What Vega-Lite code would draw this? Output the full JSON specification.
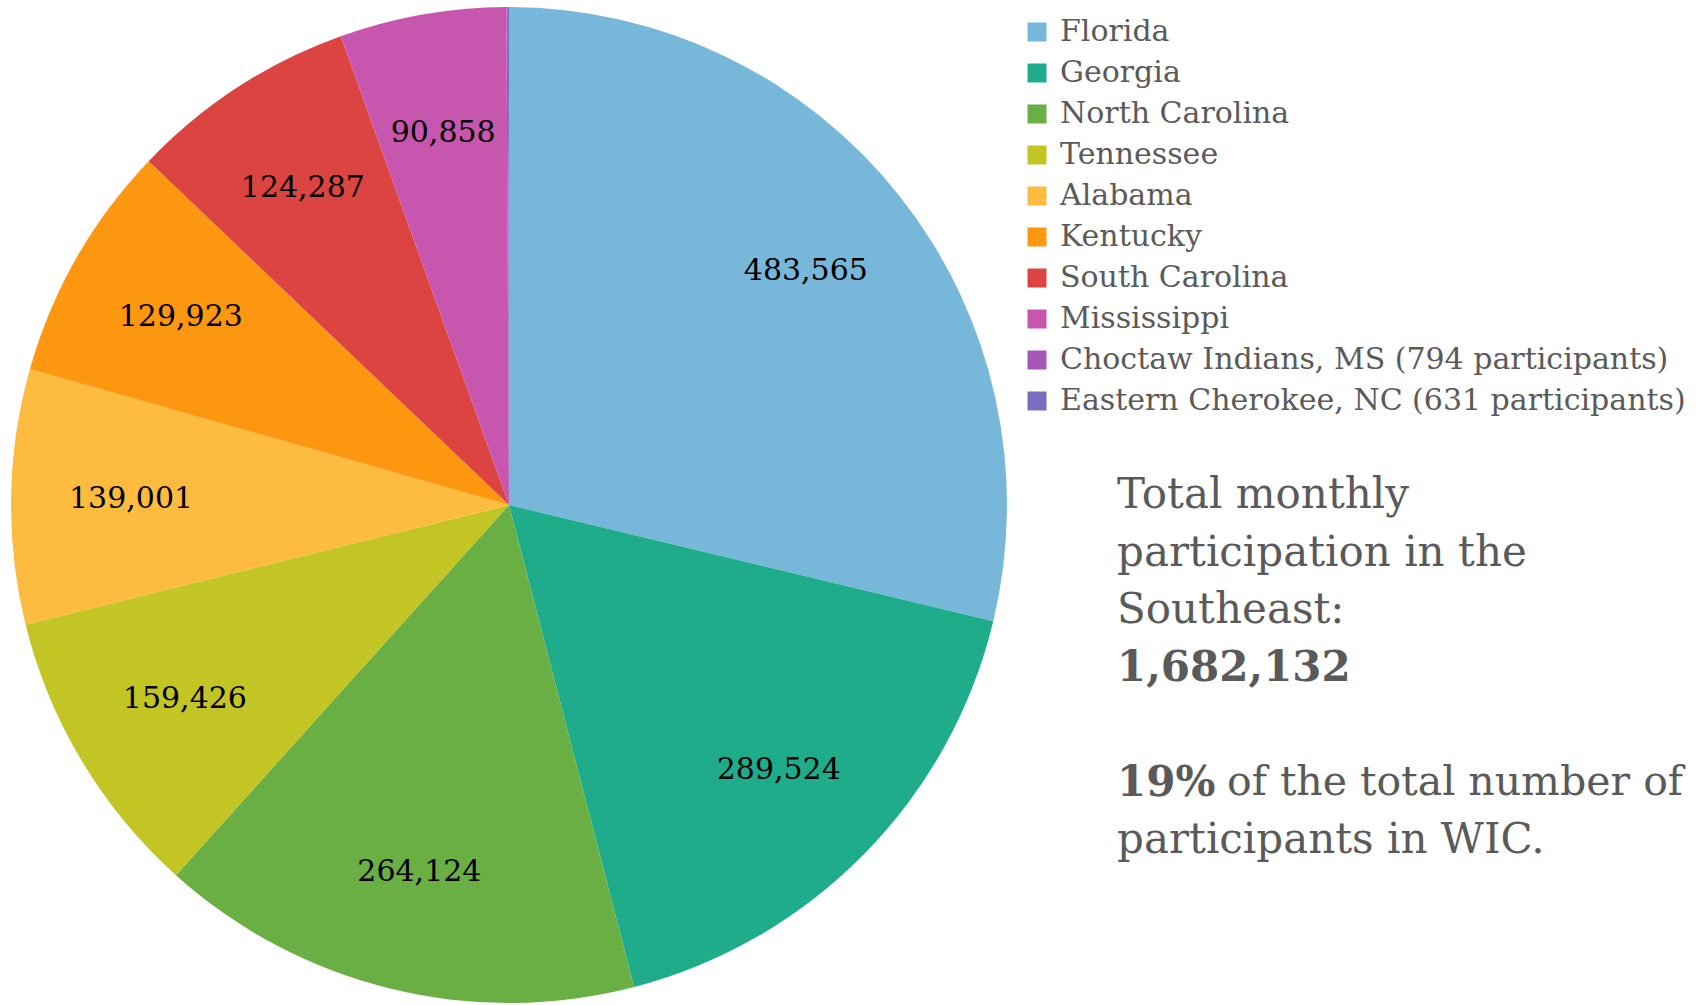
{
  "$schema": "https://vega.github.io/schema/vega-lite/v6.json",
  "background": "white",
  "padding": 0,
  "spacing": 99,
  "config": {"view": {"stroke": null}},
  "datasets": {
    "wic": [
      {"state": "Florida", "participants": 483565},
      {"state": "Georgia", "participants": 289524},
      {"state": "North Carolina", "participants": 264124},
      {"state": "Tennessee", "participants": 159426},
      {"state": "Alabama", "participants": 139001},
      {"state": "Kentucky", "participants": 129923},
      {"state": "South Carolina", "participants": 124287},
      {"state": "Mississippi", "participants": 90858},
      {"state": "Choctaw Indians, MS (794 participants)", "participants": 794},
      {"state": "Eastern Cherokee, NC (631 participants)", "participants": 631}
    ],
    "notes": [
      {"line": "a", "text": "Total monthly", "style": "normal"},
      {"line": "b", "text": "participation in the", "style": "normal"},
      {"line": "c", "text": "Southeast:", "style": "normal"},
      {"line": "d", "text": "1,682,132", "style": "bold"},
      {"line": "f", "text": "19%", "style": "bold"},
      {"line": "f", "text": "of the total number of", "style": "tail"},
      {"line": "g", "text": "participants in WIC.", "style": "normal"}
    ]
  },
  "hconcat": [
    {
      "width": 1018,
      "height": 1010,
      "data": {"name": "wic"},
      "encoding": {
        "theta": {"field": "participants", "type": "quantitative", "stack": true},
        "order": {"field": "participants", "type": "quantitative", "sort": "descending"}
      },
      "layer": [
        {
          "mark": {"type": "arc", "outerRadius": 498},
          "encoding": {
            "color": {
              "field": "state",
              "type": "nominal",
              "scale": {
                "domain": ["Florida", "Georgia", "North Carolina", "Tennessee", "Alabama", "Kentucky", "South Carolina", "Mississippi", "Choctaw Indians, MS (794 participants)", "Eastern Cherokee, NC (631 participants)"],
                "range": ["#77b7d9", "#1fac8a", "#6aaf44", "#c2c523", "#fdbb40", "#fc970f", "#dc4442", "#c756ae", "#a656b9", "#7b6cc0"]
              },
              "legend": {
                "title": null,
                "orient": "none",
                "legendX": 1022,
                "legendY": 17,
                "symbolType": "square",
                "symbolSize": 361,
                "symbolStrokeWidth": 0,
                "labelFont": "DejaVu Serif",
                "labelFontSize": 30,
                "labelColor": "#5a5a5a",
                "labelOffset": 8,
                "labelLimit": 700,
                "rowPadding": 11
              }
            }
          }
        },
        {
          "transform": [{"filter": "datum.participants > 10000"}],
          "mark": {"type": "text", "radius": 378, "font": "DejaVu Serif", "fontSize": 30, "color": "black", "baseline": "middle", "align": "center"},
          "encoding": {
            "text": {"field": "participants", "type": "quantitative", "format": ","}
          }
        }
      ]
    },
    {
      "width": 583,
      "height": 1010,
      "data": {"name": "notes"},
      "encoding": {
        "x": {"datum": 0, "type": "quantitative", "scale": {"domain": [0, 1]}, "axis": null},
        "y": {"field": "line", "type": "ordinal", "scale": {"type": "point", "domain": ["a", "b", "c", "d", "e", "f", "g"], "range": [495, 840], "padding": 0}, "axis": null},
        "text": {"field": "text", "type": "nominal"}
      },
      "layer": [
        {
          "transform": [{"filter": "datum.style == 'normal'"}],
          "mark": {"type": "text", "align": "left", "baseline": "middle", "font": "DejaVu Serif", "fontSize": 42, "color": "#5a5a5a"}
        },
        {
          "transform": [{"filter": "datum.style == 'bold'"}],
          "mark": {"type": "text", "align": "left", "baseline": "middle", "font": "DejaVu Serif", "fontSize": 42, "fontWeight": "bold", "color": "#5a5a5a"}
        },
        {
          "transform": [{"filter": "datum.style == 'tail'"}],
          "mark": {"type": "text", "align": "left", "baseline": "middle", "font": "DejaVu Serif", "fontSize": 41, "color": "#5a5a5a", "dx": 110}
        }
      ]
    }
  ]
}
